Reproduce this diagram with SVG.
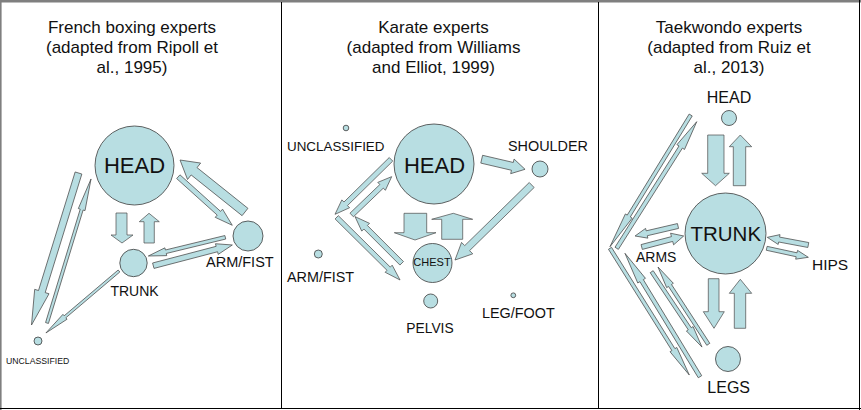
<svg xmlns="http://www.w3.org/2000/svg" width="861" height="410" viewBox="0 0 861 410">
<style>
.n{fill:#b8dee2;stroke:#3c3c3c;stroke-width:0.8}
.a{fill:#b8dee2;stroke:#4a4a4a;stroke-width:0.7;stroke-linejoin:miter}
text{font-family:"Liberation Sans",Arial,sans-serif;fill:#111}
.t{font-size:17px;text-anchor:middle}
.m{text-anchor:middle}
</style>
<rect x="0" y="0" width="861" height="410" fill="#fff"/>
<rect x="0" y="0" width="861" height="2.5" fill="#7f7f7f"/>
<line x1="0.8" y1="0" x2="0.8" y2="410" stroke="#7f7f7f" stroke-width="1.6"/>
<line x1="0" y1="408.5" x2="861" y2="408.5" stroke="#000" stroke-width="1"/>
<line x1="859.5" y1="0" x2="859.5" y2="410" stroke="#000" stroke-width="1"/>
<line x1="281.5" y1="2" x2="281.5" y2="409" stroke="#000" stroke-width="1"/>
<line x1="598.5" y1="2" x2="598.5" y2="409" stroke="#000" stroke-width="1"/>

<g id="titles">
<text class="t" x="132" y="33">French boxing experts</text>
<text class="t" x="132" y="53">(adapted from Ripoll et</text>
<text class="t" x="132" y="73">al., 1995)</text>
<text class="t" x="433.5" y="33">Karate experts</text>
<text class="t" x="433.5" y="53">(adapted from Williams</text>
<text class="t" x="433.5" y="73">and Elliot, 1999)</text>
<text class="t" x="729" y="33">Taekwondo experts</text>
<text class="t" x="729" y="53">(adapted from Ruiz et</text>
<text class="t" x="729" y="73">al., 2013)</text>
</g>

<g id="connectors">
<!-- panel 1 -->
<polygon class="a" transform="translate(78.5,173) rotate(107.18)" points="0,-3.5 124.1,-3.5 124.1,-7.5 159.1,0 124.1,7.5 124.1,3.5 0,3.5"/>
<polygon class="a" transform="translate(47,323) rotate(-73)" points="0,-1.5 118.6,-1.5 118.6,-3.5 150.6,0 118.6,3.5 118.6,1.5 0,1.5"/>
<polygon class="a" transform="translate(119,271) rotate(139.7)" points="0,-1.3 70.8,-1.3 70.8,-3.2 95.8,0 70.8,3.2 70.8,1.3 0,1.3"/>
<polygon class="a" points="116,213 127,213 127,235 133,235 122,243 111,235 116,235"/>
<polygon class="a" points="144,243 154.3,243 154.3,221.7 159.3,221.7 149,213.3 139.3,221.7 144,221.7"/>
<polygon class="a" transform="translate(245,212) rotate(-141.34)" points="0,-4.7 65.2,-4.7 65.2,-10.5 83.2,0 65.2,10.5 65.2,4.7 0,4.7"/>
<polygon class="a" transform="translate(178.3,176.7) rotate(41.99)" points="0,-2.5 54.6,-2.5 54.6,-5.5 72.6,0 54.6,5.5 54.6,2.5 0,2.5"/>
<polygon class="a" transform="translate(225.3,237.3) rotate(166.35)" points="0,-1.8 61.2,-1.8 61.2,-4 79.2,0 61.2,4 61.2,1.8 0,1.8"/>
<polygon class="a" transform="translate(153.3,265.7) rotate(-14.68)" points="0,-2.8 65.7,-2.8 65.7,-5.5 81.7,0 65.7,5.5 65.7,2.8 0,2.8"/>
<!-- panel 2 -->
<polygon class="a" transform="translate(481.7,159.2) rotate(13.13)" points="0,-4 31.5,-4 31.5,-7.5 44.5,0 31.5,7.5 31.5,4 0,4"/>
<polygon class="a" transform="translate(531.7,185) rotate(135.64)" points="0,-3.5 90.3,-3.5 90.3,-8 107.3,0 90.3,8 90.3,3.5 0,3.5"/>
<polygon class="a" points="404,213.3 426.7,213.3 426.7,232.7 436,232.7 415,240 394.3,232.7 404,232.7"/>
<polygon class="a" points="441.7,239.3 462.7,239.3 462.7,219.3 472.7,219.3 453.3,213.3 431.7,219.3 441.7,219.3"/>
<polygon class="a" transform="translate(391,159.3) rotate(135.5)" points="0,-2.5 63.5,-2.5 63.5,-5.5 78.5,0 63.5,5.5 63.5,2.5 0,2.5"/>
<polygon class="a" transform="translate(336.7,217.3) rotate(44.7)" points="0,-2.3 73.1,-2.3 73.1,-5 89.1,0 73.1,5 73.1,2.3 0,2.3"/>
<polygon class="a" transform="translate(401.7,263.3) rotate(-135)" points="0,-2.5 51,-2.5 51,-5.5 66,0 51,5.5 51,2.5 0,2.5"/>
<polygon class="a" transform="translate(351.7,215) rotate(-43.8)" points="0,-2.5 41.4,-2.5 41.4,-5.5 55.4,0 41.4,5.5 41.4,2.5 0,2.5"/>
<!-- panel 3 -->
<polygon class="a" points="707.7,135 724,135 724,173.3 729.3,173.3 715.5,185.7 701.7,173.3 707.7,173.3"/>
<polygon class="a" points="733.3,185.7 745.7,185.7 745.7,146.7 751.7,146.7 740.3,135 729.3,146.7 733.3,146.7"/>
<polygon class="a" points="708.3,278.7 719,278.7 719,311.7 724.3,311.7 714,328.3 703.3,311.7 708.3,311.7"/>
<polygon class="a" points="734.3,328.3 745.7,328.3 745.7,293.3 751.7,293.3 740.3,279.3 729.3,293.3 734.3,293.3"/>
<polygon class="a" transform="translate(808.3,245) rotate(-169.4)" points="0,-2.5 29.7,-2.5 29.7,-5 41.7,0 29.7,5 29.7,2.5 0,2.5"/>
<polygon class="a" transform="translate(766.7,248.3) rotate(12.2)" points="0,-2 30.6,-2 30.6,-4.5 42.6,0 30.6,4.5 30.6,2 0,2"/>
<polygon class="a" transform="translate(678,226) rotate(166.9)" points="0,-2.5 32.1,-2.5 32.1,-5 44.1,0 32.1,5 32.1,2.5 0,2.5"/>
<polygon class="a" transform="translate(641.7,247) rotate(-14.7)" points="0,-2.5 31.4,-2.5 31.4,-6 43.4,0 31.4,6 31.4,2.5 0,2.5"/>
<polygon class="a" transform="translate(690.7,115) rotate(121.5)" points="0,-1.8 118.5,-1.8 118.5,-4 154.5,0 118.5,4 118.5,1.8 0,1.8"/>
<polygon class="a" transform="translate(616.7,248.3) rotate(-57.7)" points="0,-2 119.8,-2 119.8,-4.5 149.8,0 119.8,4.5 119.8,2 0,2"/>
<polygon class="a" transform="translate(610,248.3) rotate(57.96)" points="0,-1.8 119.5,-1.8 119.5,-4 149.5,0 119.5,4 119.5,1.8 0,1.8"/>
<polygon class="a" transform="translate(700,376.7) rotate(-121.3)" points="0,-2 112.4,-2 112.4,-4.5 144.4,0 112.4,4.5 112.4,2 0,2"/>
<polygon class="a" transform="translate(651.7,271.7) rotate(56.3)" points="0,-1.8 68.6,-1.8 68.6,-4 90.6,0 68.6,4 68.6,1.8 0,1.8"/>
<polygon class="a" transform="translate(708.3,344.3) rotate(-123.06)" points="0,-1.8 70.2,-1.8 70.2,-4 92.2,0 70.2,4 70.2,1.8 0,1.8"/>
</g>

<!-- Panel 1 nodes -->
<g id="fb-head">
<circle class="n" cx="134.5" cy="165.5" r="39.5"/>
<text class="m" x="134.5" y="173.3" font-size="22">HEAD</text>
</g>
<g id="fb-trunk">
<circle class="n" cx="133.5" cy="263" r="13.7"/>
<text class="m" x="134.5" y="296" font-size="14">TRUNK</text>
</g>
<g id="fb-armfist">
<circle class="n" cx="248" cy="236" r="15"/>
<text x="206" y="266.7" font-size="14.5">ARM/FIST</text>
</g>
<g id="fb-unclassified">
<circle class="n" cx="38" cy="341" r="4"/>
<text x="6" y="364" font-size="8.7" fill="#3a2a2a">UNCLASSIFIED</text>
</g>

<!-- Panel 2 nodes -->
<g id="k-head">
<circle class="n" cx="434" cy="164" r="40"/>
<text class="m" x="434.5" y="173.3" font-size="22">HEAD</text>
</g>
<g id="k-chest">
<circle class="n" cx="432.5" cy="263" r="19.5"/>
<text class="m" x="432" y="265.5" font-size="11">CHEST</text>
</g>
<g id="k-shoulder">
<circle class="n" cx="540" cy="169" r="8"/>
<text x="508" y="150.7" font-size="14.4">SHOULDER</text>
</g>
<g id="k-unclassified">
<circle class="n" cx="346" cy="128" r="2.8"/>
<text x="287" y="150.7" font-size="13.4">UNCLASSIFIED</text>
</g>
<g id="k-armfist">
<circle class="n" cx="318.3" cy="254" r="4"/>
<text x="287" y="281.7" font-size="14.4">ARM/FIST</text>
</g>
<g id="k-pelvis">
<circle class="n" cx="430.7" cy="301" r="7"/>
<text class="m" x="430" y="332.7" font-size="13.8">PELVIS</text>
</g>
<g id="k-legfoot">
<circle class="n" cx="513.3" cy="295.3" r="2.4"/>
<text x="482" y="318.3" font-size="14.4">LEG/FOOT</text>
</g>

<!-- Panel 3 nodes -->
<g id="t-head">
<circle class="n" cx="729" cy="118" r="7.5"/>
<text class="m" x="729" y="102.7" font-size="16">HEAD</text>
</g>
<g id="t-trunk">
<circle class="n" cx="725.5" cy="233.5" r="40.5"/>
<text class="m" x="725.8" y="240.5" font-size="20.5">TRUNK</text>
</g>
<g id="t-legs">
<circle class="n" cx="728" cy="359" r="12.5"/>
<text class="m" x="728.7" y="393.3" font-size="16">LEGS</text>
</g>
<g id="t-hips">
<text x="812" y="270" font-size="15.5">HIPS</text>
</g>
<g id="t-arms">
<text x="636" y="261.7" font-size="14">ARMS</text>
</g>
</svg>
